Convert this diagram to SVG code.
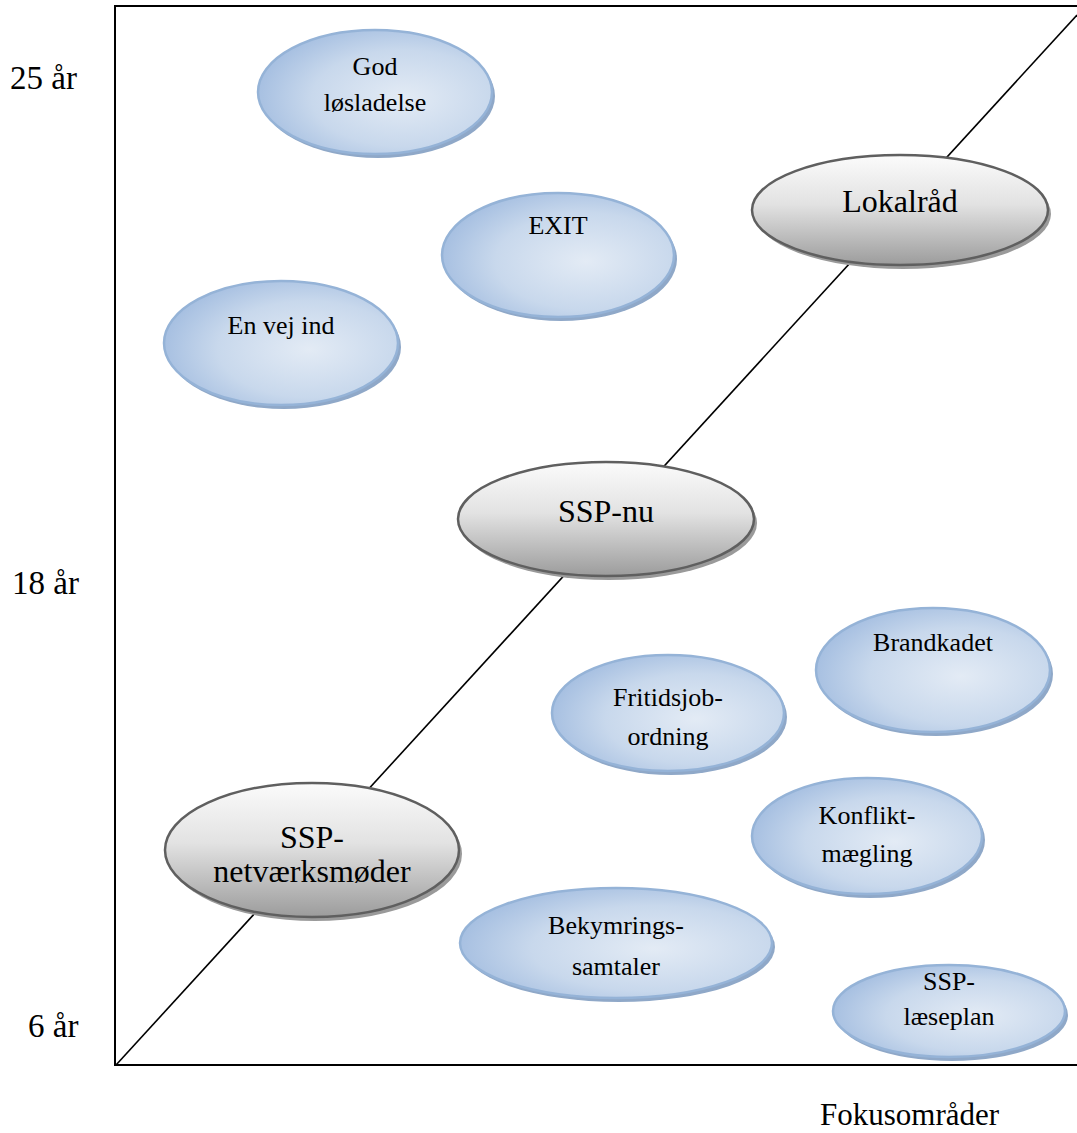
<svg xmlns="http://www.w3.org/2000/svg" width="1077" height="1133" viewBox="0 0 1077 1133">
<style>
.blue{fill:url(#gBlue);stroke:#95b3d7;stroke-width:2.5}
.gray{fill:url(#gGray);stroke:#5f5f5f;stroke-width:2.5}
.shb{fill:#8fa8c8}
.shg{fill:#9a9a9a}
text{font-family:"Liberation Serif","Times New Roman",serif;fill:#000}
.t{text-anchor:middle}
.s{font-size:26px}
.l{font-size:32px}
.ax{font-size:33px}
</style>
<defs>
<radialGradient id="gBlue" cx="0.62" cy="0.55" r="0.65">
<stop offset="0" stop-color="#e3ebf5"/>
<stop offset="0.6" stop-color="#c8d8ec"/>
<stop offset="1" stop-color="#a3bde0"/>
</radialGradient>
<linearGradient id="gGray" x1="0" y1="0" x2="0" y2="1">
<stop offset="0" stop-color="#fbfbfb"/>
<stop offset="0.45" stop-color="#e2e2e2"/>
<stop offset="1" stop-color="#9c9c9c"/>
</linearGradient>
</defs>
<rect width="1077" height="1133" fill="#fff"/>
<g id="frame" fill="none" stroke="#000" stroke-width="2">
<path d="M1077 6 H115 V1065 H1077"/>
</g>
<g id="connectors">
<line x1="116" y1="1065" x2="1077" y2="15" stroke="#000" stroke-width="1.6"/>
</g>
<g id="axis-labels" font-family="Liberation Serif, Times New Roman, serif">
<text class="ax" x="10" y="89">25 år</text>
<text class="ax" x="12" y="594">18 år</text>
<text class="ax" x="28" y="1037">6 år</text>
<text x="820" y="1125" font-size="31">Fokusområder</text>
</g>
<g id="god" font-family="Liberation Serif, Times New Roman, serif">
<ellipse class="shb" cx="378" cy="96" rx="117" ry="62"/>
<ellipse class="blue" cx="375" cy="92" rx="117" ry="62"/>
<text class="t s" x="375" y="75">God</text>
<text class="t s" x="375" y="111">løsladelse</text>
</g>
<g id="exit" font-family="Liberation Serif, Times New Roman, serif">
<ellipse class="shb" cx="561" cy="259" rx="116" ry="62"/>
<ellipse class="blue" cx="558" cy="255" rx="116" ry="62"/>
<text class="t s" x="558" y="234">EXIT</text>
</g>
<g id="envej" font-family="Liberation Serif, Times New Roman, serif">
<ellipse class="shb" cx="284" cy="347" rx="117" ry="62"/>
<ellipse class="blue" cx="281" cy="343" rx="117" ry="62"/>
<text class="t s" x="281" y="334">En vej ind</text>
</g>
<g id="lokalraad" font-family="Liberation Serif, Times New Roman, serif">
<ellipse class="shg" cx="903" cy="214" rx="148" ry="55"/>
<ellipse class="gray" cx="900" cy="210" rx="148" ry="55"/>
<text class="t l" x="900" y="212">Lokalråd</text>
</g>
<g id="sspnu" font-family="Liberation Serif, Times New Roman, serif">
<ellipse class="shg" cx="609" cy="523" rx="148" ry="57"/>
<ellipse class="gray" cx="606" cy="519" rx="148" ry="57"/>
<text class="t l" x="606" y="522">SSP-nu</text>
</g>
<g id="brandkadet" font-family="Liberation Serif, Times New Roman, serif">
<ellipse class="shb" cx="936" cy="674" rx="117" ry="62"/>
<ellipse class="blue" cx="933" cy="670" rx="117" ry="62"/>
<text class="t s" x="933" y="651">Brandkadet</text>
</g>
<g id="fritidsjob" font-family="Liberation Serif, Times New Roman, serif">
<ellipse class="shb" cx="671" cy="717" rx="116" ry="58"/>
<ellipse class="blue" cx="668" cy="713" rx="116" ry="58"/>
<text class="t s" x="668" y="706">Fritidsjob-</text>
<text class="t s" x="668" y="745">ordning</text>
</g>
<g id="konflikt" font-family="Liberation Serif, Times New Roman, serif">
<ellipse class="shb" cx="870" cy="840" rx="115" ry="58"/>
<ellipse class="blue" cx="867" cy="836" rx="115" ry="58"/>
<text class="t s" x="867" y="824">Konflikt-</text>
<text class="t s" x="867" y="862">mægling</text>
</g>
<g id="sspnet" font-family="Liberation Serif, Times New Roman, serif">
<ellipse class="shg" cx="315" cy="854" rx="147" ry="67"/>
<ellipse class="gray" cx="312" cy="850" rx="147" ry="67"/>
<text class="t l" x="312" y="848">SSP-</text>
<text class="t l" x="312" y="882">netværksmøder</text>
</g>
<g id="bekymring" font-family="Liberation Serif, Times New Roman, serif">
<ellipse class="shb" cx="619" cy="947" rx="156" ry="55"/>
<ellipse class="blue" cx="616" cy="943" rx="156" ry="55"/>
<text class="t s" x="616" y="934">Bekymrings-</text>
<text class="t s" x="616" y="975">samtaler</text>
</g>
<g id="ssplaes" font-family="Liberation Serif, Times New Roman, serif">
<ellipse class="shb" cx="952" cy="1015" rx="116" ry="46"/>
<ellipse class="blue" cx="949" cy="1011" rx="116" ry="46"/>
<text class="t s" x="949" y="990">SSP-</text>
<text class="t s" x="949" y="1025">læseplan</text>
</g>
</svg>
